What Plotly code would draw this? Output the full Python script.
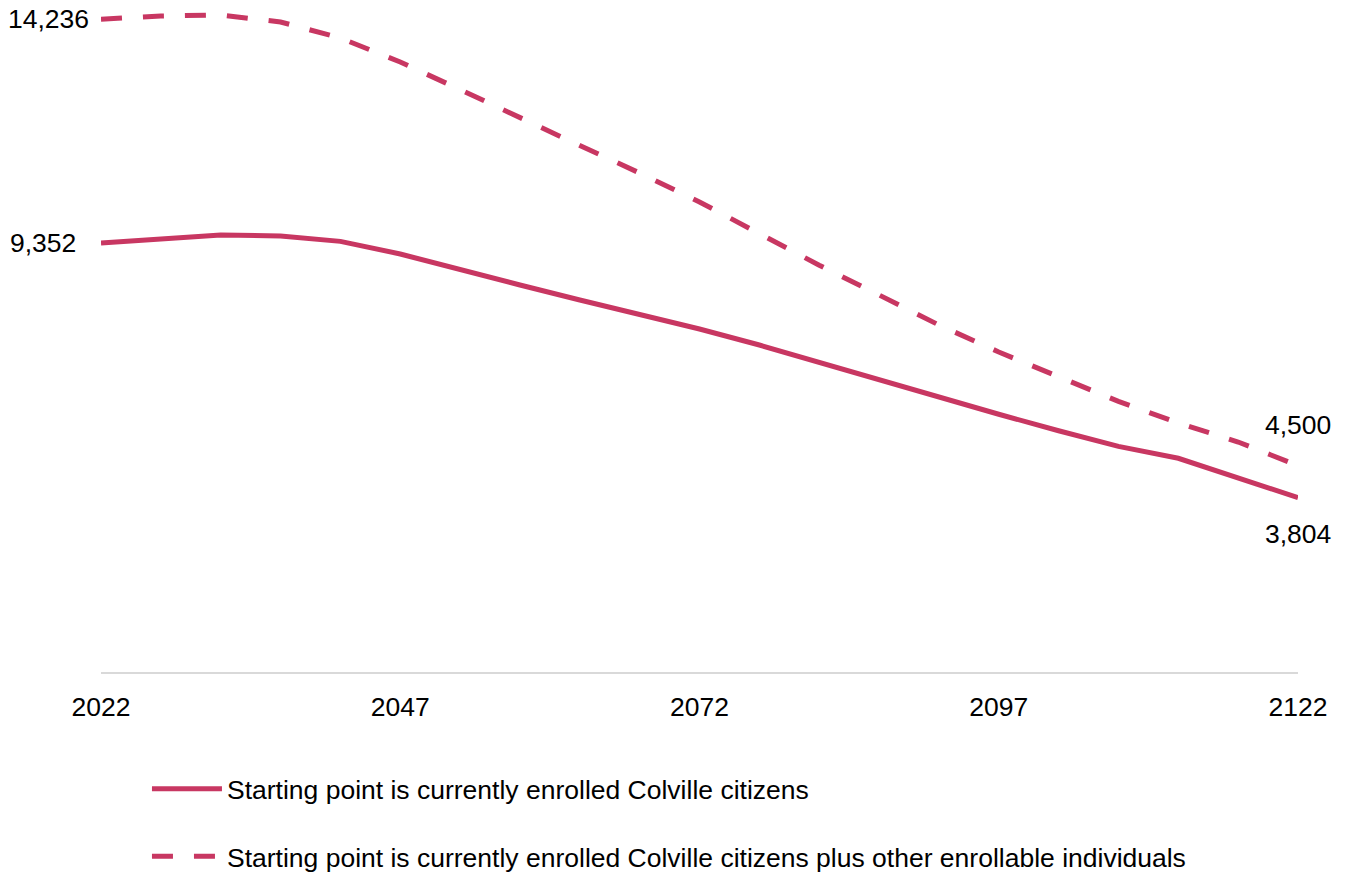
import plotly.graph_objects as go

years = [2022, 2027, 2032, 2037, 2042, 2047, 2052, 2057, 2062, 2067, 2072,
         2077, 2082, 2087, 2092, 2097, 2102, 2107, 2112, 2117, 2122]
enrolled = [9352, 9442, 9529, 9507, 9390, 9115, 8766, 8439, 8112, 7806, 7479,
            7130, 6750, 6380, 6000, 5620, 5260, 4920, 4660, 4240, 3804]
enrollable = [14236, 14305, 14326, 14174, 13825, 13300, 12700, 12080, 11480, 10880, 10250,
              9560, 8870, 8221, 7567, 6978, 6450, 5900, 5430, 5015, 4500]
tick_years = [2022, 2047, 2072, 2097, 2122]
name_enrolled = "Starting point is currently enrolled Colville citizens"
name_enrollable = "Starting point is currently enrolled Colville citizens plus other enrollable individuals"

color = "#C83762"
font = "Arial, Liberation Sans, sans-serif"
fs = 26.5

fig = go.Figure()
fig.add_trace(go.Scatter(x=years, y=enrolled, mode="lines", name=name_enrolled,
                         legendgroup="a",
                         line=dict(color=color, width=5)))
fig.add_trace(go.Scatter(x=years, y=enrollable, mode="lines", name=name_enrollable,
                         legendgroup="b",
                         line=dict(color=color, width=5, dash="21px,21px")))

fig.add_annotation(x=years[0], y=enrollable[0], text=f"{enrollable[0]:,}", showarrow=False,
                   xanchor="right", yanchor="middle", xshift=-10)
fig.add_annotation(x=years[0], y=enrolled[0], text=f"{enrolled[0]:,}", showarrow=False,
                   xanchor="right", yanchor="middle", xshift=-23)
fig.add_annotation(x=years[-1], y=enrollable[-1], text=f"{enrollable[-1]:,}", showarrow=False,
                   xanchor="center", yanchor="middle", yshift=41)
fig.add_annotation(x=years[-1], y=enrolled[-1], text=f"{enrolled[-1]:,}", showarrow=False,
                   xanchor="center", yanchor="middle", yshift=-36)

fig.update_layout(
    width=1351, height=875,
    margin=dict(l=101, r=53, t=10, b=203, autoexpand=False),
    paper_bgcolor="white", plot_bgcolor="white",
    font=dict(family=font, size=fs, color="black"),
    showlegend=True,
    legend=dict(orientation="v", x=0.0384, xanchor="left", y=-0.1405, yanchor="top",
                traceorder="grouped", tracegroupgap=30, itemwidth=70,
                font=dict(size=fs, color="black"), bgcolor="rgba(0,0,0,0)"),
    xaxis=dict(range=[2022, 2122], tickvals=tick_years, showgrid=False, zeroline=False,
               showline=True, linecolor="#D9D9D9", linewidth=2,
               ticks="outside", ticklen=10, tickcolor="rgba(0,0,0,0)",
               tickfont=dict(size=fs, color="black")),
    yaxis=dict(range=[0, 14435], visible=False, showgrid=False, zeroline=False),
)

fig.write_html("out.html", config={"displayModeBar": False},
               post_script="document.body.style.margin='0';")
